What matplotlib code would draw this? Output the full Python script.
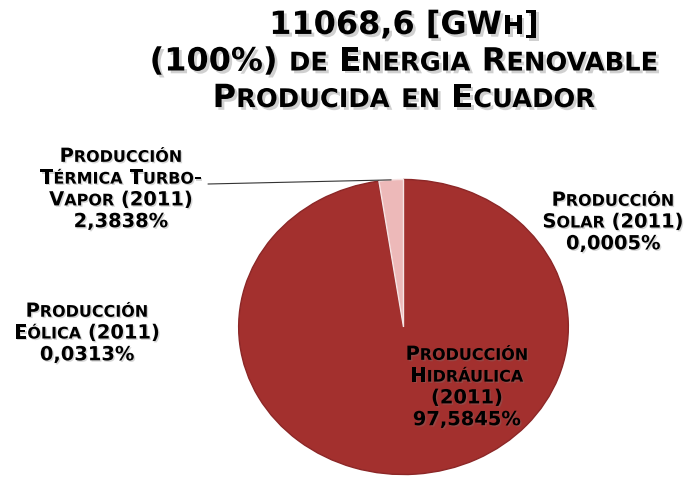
import matplotlib
matplotlib.use("Agg")
import numpy as np
import matplotlib.pyplot as plt
import matplotlib.patheffects as pe
from matplotlib.offsetbox import TextArea, HPacker, VPacker, AnnotationBbox

# data
sources = ["Solar", "Hidráulica", "Eólica", "Térmica Turbo-Vapor"]
shares = [0.0005, 97.5845, 0.0313, 2.3838]
colors = ["#A3302E", "#A3302E", "#A3302E", "#EDB9B9"]

title_lines = ["11068,6 [GWh]", "(100%) de Energia Renovable", "Producida en Ecuador"]
label_solar = ["Producción", "Solar (2011)", "0,0005%"]
label_hidro = ["Producción", "Hidráulica", "(2011)", "97,5845%"]
label_eolica = ["Producción", "Eólica (2011)", "0,0313%"]
label_termica = ["Producción", "Térmica Turbo-", "Vapor (2011)", "2,3838%"]

FONT = "DejaVu Sans"


def smallcaps_line(s, big, small, shadow, alpha):
    # lowercase letters become smaller upper case letters
    runs = []
    for ch in s:
        is_small = ch.islower()
        if runs and runs[-1][1] == is_small:
            runs[-1][0] += ch
        else:
            runs.append([ch, is_small])
    boxes = []
    for txt, is_small in runs:
        props = dict(fontfamily=FONT, fontweight="bold", color="black",
                     fontsize=small if is_small else big,
                     path_effects=[pe.withSimplePatchShadow(offset=shadow, shadow_rgbFace="#7a7a7a", alpha=alpha)])
        boxes.append(TextArea(txt.upper(), textprops=props))
    return HPacker(children=boxes, align="baseline", pad=0, sep=0)


def place_block(fig, lines, x, y, big, small, sep, shadow=(1, -1), alpha=0.3):
    rows = [smallcaps_line(l, big, small, shadow, alpha) for l in lines]
    box = VPacker(children=rows, align="center", pad=0, sep=sep)
    ab = AnnotationBbox(box, (x, y), xycoords="figure pixels", frameon=False,
                        box_alignment=(0.5, 0.5), pad=0)
    fig.add_artist(ab)


fig = plt.figure(figsize=(6.97, 4.86), dpi=100)
ax = fig.add_axes([237 / 697, 10 / 486, 333 / 697, 298 / 486])

wedges, _ = ax.pie(shares, colors=colors, startangle=90, counterclock=False,
                   wedgeprops=dict(linewidth=1))
for w, c in zip(wedges, colors):
    w.set_edgecolor("#F7E4E4" if c == "#EDB9B9" else "#8C2727")
ax.set_aspect("auto")
ax.set_xlim(-1.01, 1.01)
ax.set_ylim(-1.01, 1.01)

# leader line for the thermal slice
mid = 90 + shares[3] / 100 * 360 / 2
px, py = np.cos(np.radians(mid)), np.sin(np.radians(mid))
ax.annotate("", xy=(px, py), xytext=(208, 302), textcoords="figure pixels",
            arrowprops=dict(arrowstyle="-", color="#333333", lw=0.8, shrinkA=0, shrinkB=0),
            annotation_clip=False)

place_block(fig, title_lines, 404, 424, 23, 18.5, 4, shadow=(2, -2), alpha=0.35)
place_block(fig, label_termica, 121, 297, 14, 11.5, 2)
place_block(fig, label_solar, 613, 264, 14, 11.5, 2)
place_block(fig, label_eolica, 87, 153, 14, 11.5, 2)
place_block(fig, label_hidro, 467, 99, 14, 11.5, 2)

fig.savefig("out.png", dpi=100)
